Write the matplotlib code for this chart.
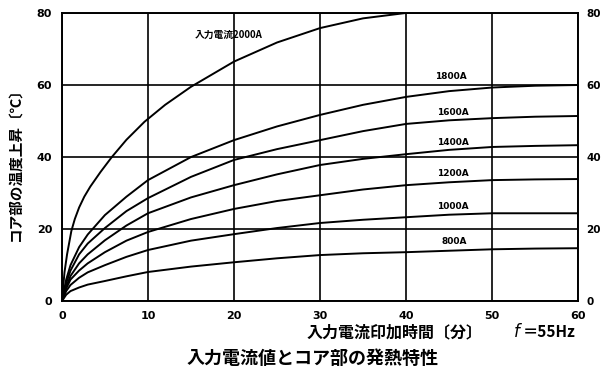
import numpy as np
import matplotlib.pyplot as plt

plt.rcParams['font.family'] = ['Noto Sans CJK JP', 'DejaVu Sans']

# Time axis (minutes) and temperature rise (deg C) for each input current
t = [0, 0.5, 1, 2, 3, 5, 7.5, 10, 15, 20, 25, 30, 35, 40, 45, 50, 55, 60]
t2000 = [0, 0.3, 0.6, 1.1, 1.5, 2, 2.6, 3.3, 4.5, 5.8, 7.5, 9.6, 12, 15, 20, 25, 30, 35, 40]
rise2000 = [0, 8, 13, 19.5, 22.8, 26, 29, 31.8, 35.9, 40, 44.8, 49.8, 54.5, 59.5, 66.5, 71.8, 75.8, 78.5, 80]
rise = {
    '1800A': [0, 6, 10, 15, 18.5, 23.9, 29, 33.6, 40, 44.7, 48.5, 51.7, 54.5, 56.7, 58.3, 59.3, 59.8, 60],
    '1600A': [0, 5, 8.5, 13, 16, 20.3, 25, 28.6, 34.5, 39.2, 42.2, 44.7, 47.2, 49.2, 50.2, 50.8, 51.2, 51.4],
    '1400A': [0, 4, 7, 10.5, 13, 16.9, 21, 24.4, 28.8, 32.2, 35.2, 37.8, 39.5, 40.8, 42, 42.8, 43.1, 43.3],
    '1200A': [0, 3.5, 6, 8.5, 10.5, 13.6, 16.8, 19.2, 22.8, 25.6, 27.8, 29.4, 31, 32.2, 33, 33.6, 33.8, 33.9],
    '1000A': [0, 2.8, 4.5, 6.5, 8, 10, 12.3, 14.2, 16.8, 18.6, 20.3, 21.7, 22.6, 23.3, 24, 24.4, 24.4, 24.4],
    '800A': [0, 1.8, 2.8, 3.8, 4.6, 5.6, 6.9, 8.1, 9.6, 10.8, 11.9, 12.8, 13.3, 13.6, 14, 14.4, 14.6, 14.7],
}
# label anchor positions (x, y) in data units
label_pos = {
    '1800A': (45.2, 62.4),
    '1600A': (45.4, 52.4),
    '1400A': (45.4, 44.0),
    '1200A': (45.4, 35.4),
    '1000A': (45.4, 26.4),
    '800A': (45.6, 16.6),
}

fig = plt.figure(figsize=(6.01, 3.70), dpi=100)
ax = fig.add_axes([0.103, 0.186, 0.859, 0.779])

ax.plot(t2000, rise2000, color='black', lw=1.4)
for name, vals in rise.items():
    ax.plot(t, vals, color='black', lw=1.4)
    x, y = label_pos[name]
    ax.text(x, y, name, fontsize=6.5, fontweight='bold', ha='center', va='center',
            family='DejaVu Sans')
ax.text(19.4, 73.8, '入力電流2000A', fontsize=7, fontweight='bold', ha='center', va='center')

ax.set_xlim(0, 60)
ax.set_ylim(0, 80)
ax.set_xticks(range(0, 61, 10))
ax.set_yticks(range(0, 81, 20))
ax.grid(True, color='black', lw=1.2)
for s in ax.spines.values():
    s.set_linewidth(1.4)
ax.tick_params(length=0, labelsize=8, pad=7)
for lab in ax.get_xticklabels() + ax.get_yticklabels():
    lab.set_fontweight('bold')
    lab.set_family('DejaVu Sans')

ax2 = ax.twinx()
ax2.set_ylim(0, 80)
ax2.set_yticks(range(0, 81, 20))
ax2.tick_params(length=0, labelsize=7.5, pad=6)
for lab in ax2.get_yticklabels():
    lab.set_fontweight('bold')
    lab.set_family('DejaVu Sans')
for s in ax2.spines.values():
    s.set_visible(False)

fig.text(0.026, 0.565, 'コア部の温度上昇〔℃〕', rotation=90, fontsize=10.5, fontweight='bold',
         ha='center', va='center')
fig.text(0.657, 0.103, '入力電流印加時間〔分〕', fontsize=11.5, fontweight='bold',
         ha='center', va='center')
fig.text(0.853, 0.103, '$f$', fontsize=12, ha='left', va='center')
fig.text(0.87, 0.103, '＝55Hz', fontsize=11, fontweight='bold', ha='left', va='center')
fig.text(0.52, 0.032, '入力電流値とコア部の発熱特性', fontsize=13, fontweight='bold',
         ha='center', va='center')

fig.savefig('out.png', dpi=100)
